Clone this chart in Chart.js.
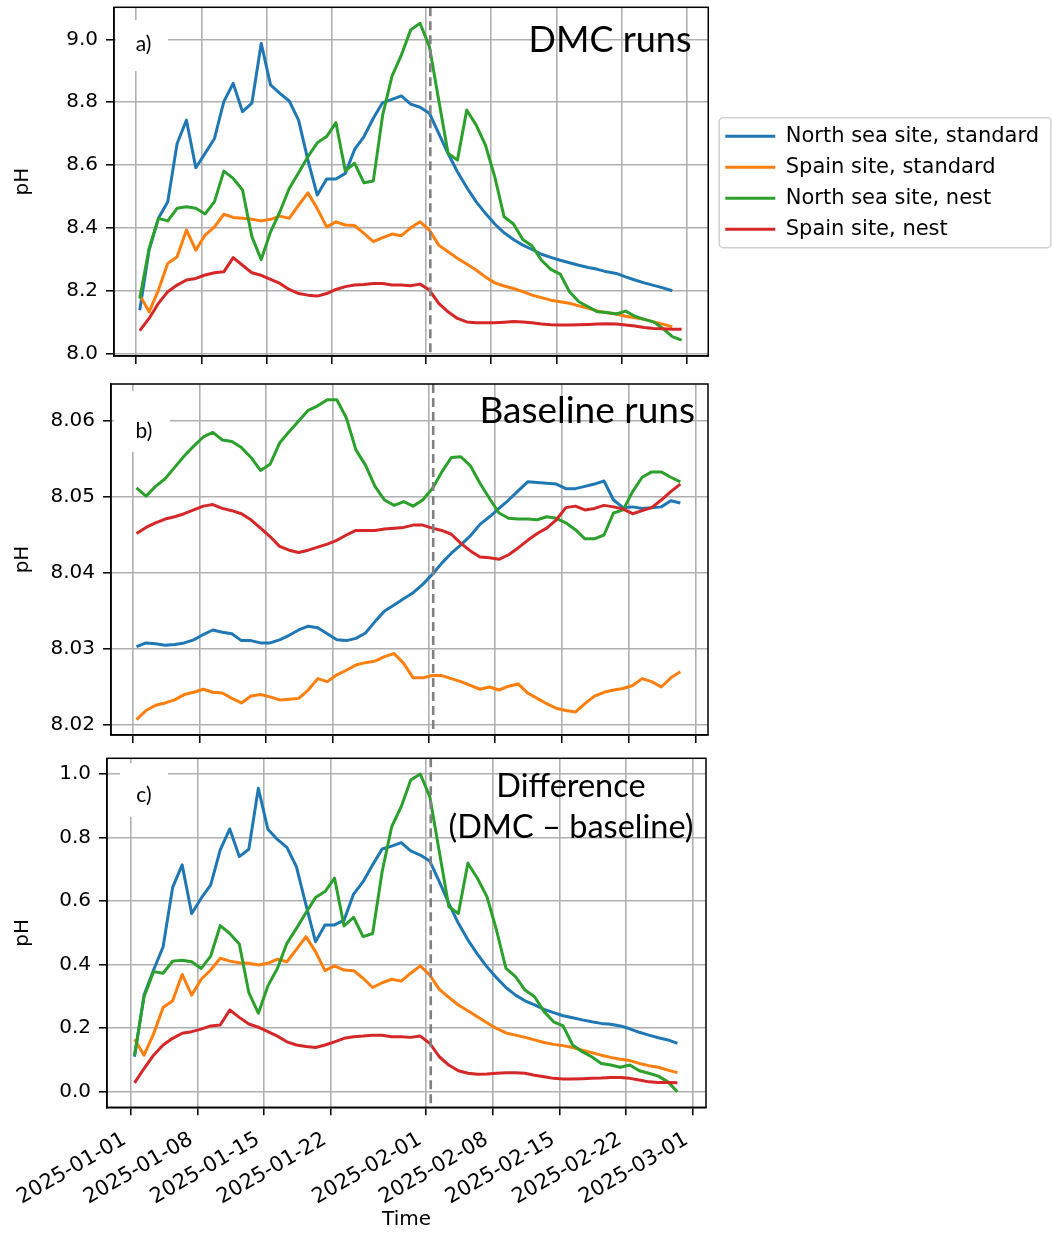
<!DOCTYPE html>
<html>
<head>
<meta charset="utf-8">
<script src="https://cdn.jsdelivr.net/npm/chart.js@4.4.1/dist/chart.umd.min.js"></script>
<style>
  body { margin: 0; background: #fff; }
  #wrap { position: relative; width: 1052px; height: 1233px; }
  canvas { position: absolute; left: 0; }
</style>
</head>
<body>
<div id="wrap">
  <canvas id="panelA" width="1052" height="372" style="top:0px"></canvas>
  <canvas id="panelB" width="1052" height="376" style="top:372px"></canvas>
  <canvas id="panelC" width="1052" height="485" style="top:748px"></canvas>
</div>
<script>
// daily samples, counted in days after 2025-01-01 00:00
const firstDay = 0.4;
const days = Array.from({ length: 59 }, (_, i) => firstDay + i);

const seriesNames = ['North sea site, standard', 'Spain site, standard', 'North sea site, nest', 'Spain site, nest'];
const seriesColors = ['#1f77b4', '#ff7f0e', '#2ca02c', '#d62728'];

const xTickDays = [0, 7, 14, 21, 31, 38, 45, 52, 59];
const xTickLabels = ['2025-01-01', '2025-01-08', '2025-01-15', '2025-01-22', '2025-02-01',
                     '2025-02-08', '2025-02-15', '2025-02-22', '2025-03-01'];
const markDay = 31.5; // dashed line

const yTicksA = [8.0, 8.2, 8.4, 8.6, 8.8, 9.0];
const yTicksB = [8.02, 8.03, 8.04, 8.05, 8.06];
const yTicksC = [0.0, 0.2, 0.4, 0.6, 0.8, 1.0];

// a) DMC runs
const northStdA = [8.139, 8.33, 8.431, 8.484, 8.669, 8.743, 8.592, 8.638, 8.685, 8.802,
  8.860, 8.770, 8.797, 8.987, 8.855, 8.828, 8.804, 8.743, 8.616, 8.505,
  8.556, 8.556, 8.574, 8.650, 8.691, 8.749, 8.799, 8.809, 8.820, 8.794,
  8.784, 8.765, 8.701, 8.637, 8.579, 8.529, 8.484, 8.447, 8.413, 8.385,
  8.364, 8.346, 8.332, 8.317, 8.307, 8.298, 8.290, 8.282, 8.275, 8.269,
  8.261, 8.256, 8.245, 8.235, 8.226, 8.218, 8.210, 8.201];
const spainStdA = [8.187, 8.134, 8.203, 8.288, 8.309, 8.394, 8.330, 8.378, 8.404, 8.444,
  8.434, 8.431, 8.428, 8.423, 8.428, 8.438, 8.431, 8.473, 8.512, 8.462,
  8.404, 8.420, 8.410, 8.408, 8.383, 8.357, 8.370, 8.381, 8.376, 8.401,
  8.420, 8.394, 8.346, 8.325, 8.304, 8.286, 8.267, 8.245, 8.226, 8.216,
  8.208, 8.198, 8.187, 8.179, 8.171, 8.166, 8.161, 8.153, 8.145, 8.137,
  8.131, 8.127, 8.120, 8.115, 8.110, 8.102, 8.095, 8.086];
const northNestA = [8.176, 8.335, 8.431, 8.423, 8.463, 8.468, 8.463, 8.445, 8.484, 8.581,
  8.558, 8.521, 8.373, 8.300, 8.388, 8.452, 8.526, 8.576, 8.627, 8.671,
  8.691, 8.735, 8.582, 8.606, 8.544, 8.550, 8.759, 8.883, 8.950, 9.030,
  9.051, 8.977, 8.807, 8.638, 8.616, 8.775, 8.728, 8.664, 8.563, 8.436,
  8.413, 8.364, 8.343, 8.298, 8.269, 8.254, 8.198, 8.166, 8.150, 8.134,
  8.132, 8.127, 8.136, 8.120, 8.110, 8.102, 8.081, 8.055, 8.044];
const spainNestA = [8.074, 8.113, 8.161, 8.198, 8.219, 8.235, 8.240, 8.251, 8.258, 8.261,
  8.306, 8.282, 8.258, 8.250, 8.237, 8.224, 8.205, 8.192, 8.187, 8.184,
  8.192, 8.205, 8.214, 8.219, 8.221, 8.224, 8.224, 8.219, 8.219, 8.217,
  8.222, 8.203, 8.161, 8.134, 8.113, 8.102, 8.099, 8.099, 8.099, 8.101,
  8.103, 8.102, 8.099, 8.095, 8.093, 8.092, 8.092, 8.093, 8.094, 8.095,
  8.096, 8.095, 8.092, 8.089, 8.084, 8.081, 8.080, 8.079, 8.079];

// b) Baseline runs
const northStdB = [8.0303, 8.0308, 8.0307, 8.0305, 8.0306, 8.0308, 8.0312, 8.0319, 8.0325, 8.0322,
  8.0320, 8.0311, 8.0311, 8.0308, 8.0308, 8.0312, 8.0318, 8.0325, 8.0330, 8.0328,
  8.0320, 8.0312, 8.0311, 8.0314, 8.0321, 8.0336, 8.0350, 8.0358, 8.0366, 8.0374,
  8.0385, 8.0398, 8.0413, 8.0426, 8.0437, 8.0449, 8.0464, 8.0474, 8.0485, 8.0496,
  8.0508, 8.0520, 8.0519, 8.0518, 8.0517, 8.0511, 8.0511, 8.0514, 8.0517, 8.0521,
  8.0496, 8.0486, 8.0487, 8.0485, 8.0486, 8.0487, 8.0495, 8.0492];
const spainStdB = [8.0207, 8.0219, 8.0226, 8.0229, 8.0233, 8.0240, 8.0243, 8.0247, 8.0243, 8.0242,
  8.0235, 8.0229, 8.0238, 8.0240, 8.0237, 8.0233, 8.0234, 8.0235, 8.0246, 8.0261,
  8.0257, 8.0266, 8.0272, 8.0279, 8.0282, 8.0284, 8.0290, 8.0294, 8.0281, 8.0262,
  8.0262, 8.0265, 8.0265, 8.0261, 8.0257, 8.0252, 8.0247, 8.0250, 8.0246, 8.0251,
  8.0254, 8.0242, 8.0235, 8.0228, 8.0222, 8.0219, 8.0217, 8.0228, 8.0238, 8.0243,
  8.0246, 8.0248, 8.0252, 8.0261, 8.0257, 8.0250, 8.0262, 8.0270];
const northNestB = [8.0512, 8.0501, 8.0514, 8.0524, 8.0539, 8.0554, 8.0567, 8.0579, 8.0585, 8.0575,
  8.0573, 8.0565, 8.0552, 8.0535, 8.0543, 8.0571, 8.0586, 8.0600, 8.0614, 8.0620,
  8.0628, 8.0628, 8.0604, 8.0562, 8.0542, 8.0514, 8.0496, 8.0489, 8.0494, 8.0488,
  8.0496, 8.0511, 8.0533, 8.0552, 8.0553, 8.0541, 8.0518, 8.0498, 8.0479, 8.0472,
  8.0471, 8.0471, 8.0470, 8.0474, 8.0472, 8.0466, 8.0457, 8.0445, 8.0445, 8.0450,
  8.0479, 8.0483, 8.0507, 8.0526, 8.0533, 8.0533, 8.0526, 8.0520];
const spainNestB = [8.0452, 8.0460, 8.0466, 8.0471, 8.0474, 8.0478, 8.0483, 8.0488, 8.0490, 8.0485,
  8.0482, 8.0478, 8.0470, 8.0459, 8.0448, 8.0435, 8.0430, 8.0427, 8.0430, 8.0434,
  8.0438, 8.0443, 8.0450, 8.0456, 8.0456, 8.0456, 8.0458, 8.0459, 8.0460, 8.0463,
  8.0463, 8.0459, 8.0456, 8.0451, 8.0439, 8.0429, 8.0421, 8.0420, 8.0418, 8.0424,
  8.0433, 8.0443, 8.0452, 8.0459, 8.0470, 8.0486, 8.0488, 8.0483, 8.0485, 8.0489,
  8.0487, 8.0484, 8.0478, 8.0482, 8.0486, 8.0496, 8.0507, 8.0517];

// c) Difference (DMC - baseline)
const northStdC = [0.110, 0.304, 0.383, 0.456, 0.643, 0.714, 0.561, 0.609, 0.651, 0.761,
  0.827, 0.740, 0.763, 0.955, 0.826, 0.794, 0.769, 0.708, 0.588, 0.472,
  0.525, 0.525, 0.540, 0.622, 0.661, 0.714, 0.764, 0.773, 0.784, 0.758,
  0.745, 0.726, 0.661, 0.593, 0.530, 0.478, 0.433, 0.393, 0.359, 0.328,
  0.304, 0.286, 0.273, 0.259, 0.249, 0.239, 0.233, 0.226, 0.220, 0.215,
  0.212, 0.207, 0.198, 0.187, 0.178, 0.170, 0.163, 0.152];
const spainStdC = [0.165, 0.115, 0.182, 0.265, 0.286, 0.369, 0.304, 0.354, 0.383, 0.420,
  0.411, 0.406, 0.404, 0.399, 0.404, 0.417, 0.409, 0.448, 0.488, 0.441,
  0.381, 0.396, 0.383, 0.381, 0.357, 0.328, 0.343, 0.354, 0.348, 0.373,
  0.396, 0.367, 0.322, 0.297, 0.273, 0.255, 0.236, 0.217, 0.199, 0.185,
  0.178, 0.171, 0.163, 0.155, 0.149, 0.145, 0.139, 0.131, 0.123, 0.115,
  0.108, 0.102, 0.098, 0.089, 0.082, 0.077, 0.068, 0.060];
const northNestC = [0.115, 0.299, 0.378, 0.373, 0.411, 0.414, 0.409, 0.388, 0.427, 0.523,
  0.498, 0.465, 0.312, 0.247, 0.333, 0.388, 0.467, 0.514, 0.563, 0.611,
  0.630, 0.672, 0.522, 0.549, 0.488, 0.498, 0.693, 0.834, 0.897, 0.981,
  1.000, 0.929, 0.755, 0.582, 0.561, 0.719, 0.672, 0.614, 0.509, 0.388,
  0.362, 0.320, 0.299, 0.252, 0.220, 0.207, 0.147, 0.126, 0.110, 0.089,
  0.084, 0.077, 0.084, 0.066, 0.058, 0.049, 0.031, 0.000];
const spainNestC = [0.028, 0.073, 0.115, 0.147, 0.168, 0.184, 0.189, 0.197, 0.207, 0.210,
  0.257, 0.234, 0.213, 0.203, 0.189, 0.175, 0.157, 0.147, 0.142, 0.139,
  0.147, 0.157, 0.168, 0.173, 0.175, 0.178, 0.178, 0.173, 0.173, 0.171,
  0.175, 0.152, 0.110, 0.084, 0.066, 0.058, 0.055, 0.056, 0.058, 0.060,
  0.060, 0.058, 0.052, 0.047, 0.042, 0.040, 0.040, 0.041, 0.042, 0.043,
  0.045, 0.045, 0.042, 0.037, 0.031, 0.029, 0.029, 0.028];

Chart.defaults.font.family = "'DejaVu Sans', sans-serif";
Chart.defaults.font.size = 20;
Chart.defaults.color = '#000';

function points(values) {
  return values.map((v, i) => ({ x: days[i], y: v }));
}

// spines, panel tag, panel title, dashed marker, legend frame
const panelDeco = {
  id: 'panelDeco',
  afterLayout(chart, args, opts) {
    if (opts.legendShift) {
      chart.legend.left += opts.legendShift[0];
      chart.legend.right += opts.legendShift[0];
      chart.legend.top += opts.legendShift[1];
      chart.legend.bottom += opts.legendShift[1];
    }
  },
  beforeDatasetsDraw(chart, args, opts) {
    const ctx = chart.ctx;
    ctx.save();
    ctx.fillStyle = '#fff';
    ctx.fillRect(opts.tag.box[0], opts.tag.box[1], opts.tag.box[2], opts.tag.box[3]);
    ctx.restore();
  },
  afterDatasetsDraw(chart) {
    const ctx = chart.ctx;
    const area = chart.chartArea;
    const x = chart.scales.x.getPixelForValue(markDay);
    ctx.save();
    ctx.strokeStyle = '#808080';
    ctx.lineWidth = 2.6;
    ctx.setLineDash([9, 5]);
    ctx.beginPath();
    ctx.moveTo(x, area.top);
    ctx.lineTo(x, area.bottom);
    ctx.stroke();
    ctx.restore();
  },
  afterDraw(chart, args, opts) {
    const ctx = chart.ctx;
    const area = chart.chartArea;
    ctx.save();
    ctx.strokeStyle = '#000';
    ctx.lineWidth = 1.5;
    ctx.strokeRect(area.left, area.top, area.right - area.left, area.bottom - area.top);

    ctx.fillStyle = '#000';
    ctx.font = "21px Lato";
    ctx.textAlign = 'center';
    ctx.textBaseline = 'middle';
    ctx.fillText(opts.tag.text, opts.tag.x, opts.tag.y);

    ctx.font = opts.title.size + "px Lato";
    ctx.textAlign = opts.title.align;
    ctx.textBaseline = 'alphabetic';
    opts.title.lines.forEach((line, i) => {
      ctx.fillText(line, opts.title.x, opts.title.y + i * opts.title.gap);
    });

    if (opts.legendShift) {
      const lg = chart.legend;
      const hb = lg.legendHitBoxes;
      const last = hb[hb.length - 1];
      const x0 = lg.left + 4;
      const y0 = hb[0].top - 8;
      ctx.strokeStyle = '#d0d0d0';
      ctx.lineWidth = 1.5;
      ctx.beginPath();
      ctx.roundRect(x0, y0, 1051 - x0, last.top + last.height + 8 - y0, 4);
      ctx.stroke();
    }
    ctx.restore();
  }
};

function makePanel(id, p) {
  const datasets = p.series.map((values, k) => ({
    label: seriesNames[k],
    data: points(values),
    borderColor: seriesColors[k],
    backgroundColor: seriesColors[k],
    borderWidth: 3,
    borderJoinStyle: 'round',
    pointRadius: 0,
    tension: 0,
    order: 4 - k
  }));

  return new Chart(document.getElementById(id), {
    type: 'line',
    data: { datasets: datasets },
    plugins: [panelDeco],
    options: {
      responsive: false,
      animation: false,
      events: [],
      layout: { padding: p.padding },
      scales: {
        x: {
          type: 'linear',
          min: p.xMin,
          max: p.xMax,
          afterBuildTicks: (s) => { s.ticks = xTickDays.map(v => ({ value: v })); },
          afterFit: (s) => { s.height = p.xHeight; s.paddingLeft = 0; s.paddingRight = 0; },
          grid: { color: '#b0b0b0', lineWidth: 1.6, tickColor: '#000', tickWidth: 1.5, tickLength: 8 },
          border: { display: true, color: '#000', width: 1.5 },
          ticks: {
            display: p.xLabels,
            autoSkip: false,
            minRotation: 30,
            maxRotation: 30,
            padding: 12,
            labelOffset: -6,
            font: { size: 21 },
            callback: (v, i) => xTickLabels[i]
          },
          title: {
            display: p.xLabels,
            text: 'Time',
            font: { size: 20 },
            padding: { top: 0, bottom: 1 }
          }
        },
        y: {
          min: p.yMin,
          max: p.yMax,
          afterBuildTicks: (s) => { s.ticks = p.yTicks.map(v => ({ value: v })); },
          afterFit: (s) => { s.width = p.yWidth; s.paddingTop = 0; s.paddingBottom = 0; },
          grid: { color: '#b0b0b0', lineWidth: 1.6, tickColor: '#000', tickWidth: 1.5, tickLength: 8 },
          border: { display: true, color: '#000', width: 1.5 },
          ticks: {
            padding: 8,
            callback: (v) => v.toFixed(p.decimals)
          },
          title: {
            display: true,
            text: 'pH',
            font: { size: 20 },
            padding: { top: 11, bottom: 0 }
          }
        }
      },
      plugins: {
        tooltip: { enabled: false },
        legend: {
          display: p.legend,
          position: 'right',
          maxWidth: 340,
          labels: {
            font: { size: 21 },
            color: '#000',
            usePointStyle: true,
            pointStyle: 'line',
            pointStyleWidth: 50,
            padding: 10,
            sort: (a, b) => a.datasetIndex - b.datasetIndex
          }
        },
        panelDeco: {
          legendShift: p.legend ? [7, -7] : null,
          tag: p.tag,
          title: p.title
        }
      }
    }
  });
}

makePanel('panelA', {
  series: [northStdA, spainStdA, northNestA, spainNestA],
  yTicks: yTicksA, decimals: 1,
  xMin: -2.356, xMax: 61.25, yMin: 7.9936, yMax: 9.1017,
  yWidth: 114, xHeight: 16,
  padding: { top: 7.3, right: 10, bottom: 0, left: 0 },
  legend: true, xLabels: false,
  tag: { text: 'a)', x: 143.5, y: 44, box: [116, 20, 52, 51] },
  title: { lines: ['DMC runs'], x: 691.5, y: 51.7, align: 'right', gap: 0, size: 36 }
});

makePanel('panelB', {
  series: [northStdB, spainStdB, northNestB, spainNestB],
  yTicks: yTicksB, decimals: 2,
  xMin: -2.27, xMax: 60.3, yMin: 8.01868, yMax: 8.06487,
  yWidth: 111, xHeight: 13,
  padding: { top: 12, right: 344, bottom: 0, left: 0 },
  legend: false, xLabels: false,
  tag: { text: 'b)', x: 144, y: 59, box: [114, 19, 56, 61] },
  title: { lines: ['Baseline runs'], x: 695, y: 51, align: 'right', gap: 0, size: 37 }
});

makePanel('panelC', {
  series: [northStdC, spainStdC, northNestC, spainNestC],
  yTicks: yTicksC, decimals: 1,
  xMin: -2.49, xMax: 60.4, yMin: -0.0491, yMax: 1.0494,
  yWidth: 107, xHeight: 125.7,
  padding: { top: 10.3, right: 346, bottom: 0, left: 0 },
  legend: false, xLabels: true,
  tag: { text: 'c)', x: 144, y: 47.5, box: [120, 15, 48, 54] },
  title: { lines: ['Difference', '(DMC \u2013 baseline)'], x: 571, y: 49, align: 'center', gap: 41.3, size: 32.5 }
});
</script>
</body>
</html>
